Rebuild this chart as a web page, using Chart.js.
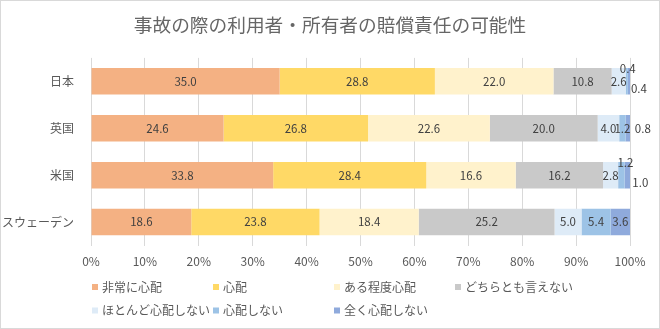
<!DOCTYPE html>
<html>
<head>
<meta charset="utf-8">
<script src="https://cdn.jsdelivr.net/npm/chart.js@4"></script>
<style>
 html,body{margin:0;padding:0;background:#fff;}
 canvas{display:block;}
</style>
</head>
<body>
<canvas id="chart" width="660" height="329"></canvas>
<script>
// data
const categories=["日本","英国","米国","スウェーデン"];
const seriesNames=["非常に心配","心配","ある程度心配","どちらとも言えない","ほとんど心配しない","心配しない","全く心配しない"];
const verySerious=[35.0,24.6,33.8,18.6];
const worried=[28.8,26.8,28.4,23.8];
const somewhat=[22.0,22.6,16.6,18.4];
const neutral=[10.8,20.0,16.2,25.2];
const hardly=[2.6,4.0,2.8,5.0];
const notWorried=[0.4,1.2,1.2,5.4];
const notAtAll=[0.4,0.8,1.0,3.6];
const xTickValues=[0,10,20,30,40,50,60,70,80,90,100];
const chartTitle="事故の際の利用者・所有者の賠償責任の可能性";

const colors=["#F4B183","#FFD966","#FFF2CC","#C9C9C9","#DEEBF7","#9DC3E6","#8FAADC"];
const font='"Noto Sans CJK JP","Noto Sans",sans-serif';
const textColor="#595959";

// small labels moved off the bar like the original ("dataset,index": [dx,dy])
const labelNudge={"5,0":[1,-13],"6,0":[10,7],"6,1":[15,0],"5,2":[4,-13],"6,2":[13,7]};

const values=[verySerious,worried,somewhat,neutral,hardly,notWorried,notAtAll];

const valueLabels={
 id:"valueLabels",
 afterDatasetsDraw(chart){
  let ctx=chart.ctx;
  ctx.save();
  ctx.font="11.5px "+font;
  ctx.fillStyle="#404040";
  ctx.textAlign="center";
  ctx.textBaseline="middle";
  chart.data.datasets.forEach((ds,i)=>{
   chart.getDatasetMeta(i).data.forEach((bar,j)=>{
    let n=labelNudge[i+","+j]||[0,0];
    ctx.fillText(ds.data[j].toFixed(1),(bar.x+bar.base)/2+n[0],bar.y+n[1]);
   });
  });
  ctx.restore();
 }
};

// title, legend grid and frame
const decor={
 id:"decor",
 afterDraw(chart){
  let ctx=chart.ctx;
  ctx.save();
  ctx.font="18.7px "+font;
  ctx.fillStyle="#666666";
  ctx.textAlign="center";
  ctx.textBaseline="middle";
  ctx.fillText(chartTitle,chart.width/2,25);

  ctx.font="12px "+font;
  ctx.textAlign="left";
  seriesNames.forEach((name,i)=>{
   let col=i<4?i:i-4, row=i<4?0:1;
   let x=92+col*121, y=287+row*23.5;
   ctx.fillStyle=colors[i];
   ctx.fillRect(x,y-3,6,6);
   ctx.fillStyle=textColor;
   ctx.fillText(name,x+10,y);
  });
  ctx.strokeStyle="#D9D9D9";
  ctx.lineWidth=1;
  ctx.strokeRect(0.5,0.5,chart.width-1,chart.height-1);
  ctx.restore();
 }
};

new Chart(document.getElementById("chart"),{
 type:"bar",
 data:{
  labels:categories,
  datasets:seriesNames.map((name,i)=>({
   label:name,
   data:values[i],
   backgroundColor:colors[i],
   borderWidth:0,
   barPercentage:0.565,
   categoryPercentage:1
  }))
 },
 options:{
  responsive:false,
  animation:false,
  indexAxis:"y",
  layout:{padding:{left:0,right:30,top:57.9,bottom:58.5}},
  plugins:{
   legend:{display:false},
   tooltip:{enabled:false},
   title:{display:false}
  },
  scales:{
   x:{
    stacked:true,
    min:0,max:100,
    afterBuildTicks:s=>{s.ticks=xTickValues.map(v=>({value:v}));},
    afterFit:s=>{s.height=25;},
    grid:{color:"#D9D9D9",drawTicks:false},
    border:{display:false},
    ticks:{color:textColor,font:{family:font,size:12},padding:9,callback:v=>v+"%"}
   },
   y:{
    stacked:true,
    afterFit:s=>{s.width=91;},
    grid:{display:false},
    border:{display:false},
    ticks:{color:textColor,font:{family:font,size:12},padding:9}
   }
  }
 },
 plugins:[valueLabels,decor]
});
</script>
</body>
</html>
